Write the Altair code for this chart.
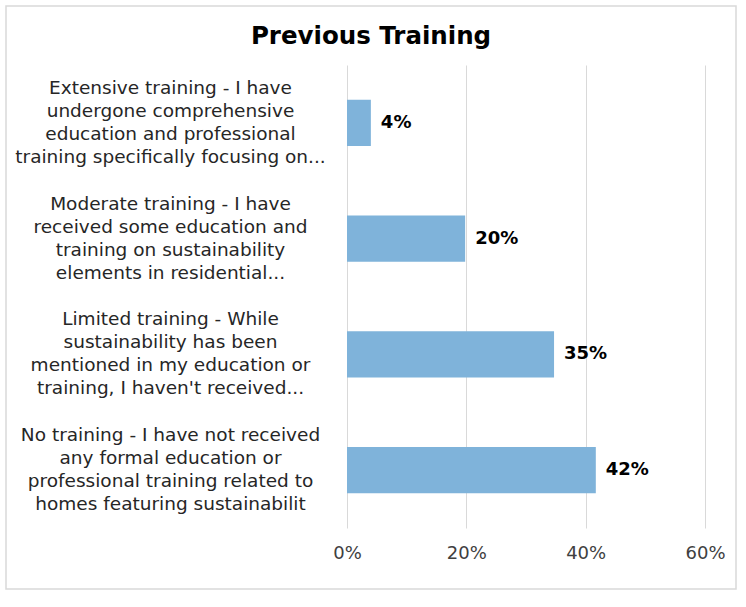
import altair as alt
import pandas as pd

title_text = "Previous Training"
categories = [
    "Extensive training - I have|undergone comprehensive|education and professional|training specifically focusing on...",
    "Moderate training - I have|received some education and|training on sustainability|elements in residential...",
    "Limited training - While|sustainability has been|mentioned in my education or|training, I haven't received...",
    "No training - I have not received|any formal education or|professional training related to|homes featuring sustainabilit",
]
values = [0.040, 0.198, 0.347, 0.417]
tick_values = [0, 0.2, 0.4, 0.6]

df = pd.DataFrame({"category": categories, "value": values})

FONT = "DejaVu Sans"

y_enc = alt.Y(
    "category:N",
    sort=None,
    scale=alt.Scale(paddingInner=0.6, paddingOuter=0.3),
    axis=alt.Axis(
        title=None,
        domain=False,
        ticks=False,
        labelExpr="split(datum.label, '|')",
        labelAlign="center",
        labelBaseline="middle",
        labelPadding=177,
        labelOffset=-35,
        labelLimit=400,
        labelFontSize=18.5,
        labelLineHeight=23,
        labelColor="#262626",
        labelFont=FONT,
    ),
)

x_enc = alt.X(
    "value:Q",
    scale=alt.Scale(domain=[0, 0.6]),
    axis=alt.Axis(
        title=None,
        values=tick_values,
        format=".0%",
        grid=True,
        gridColor="#D9D9D9",
        domain=False,
        ticks=False,
        labelFlush=False,
        labelPadding=16,
        labelFontSize=18,
        labelColor="#404040",
        labelFont=FONT,
    ),
)

bars = alt.Chart(df).mark_bar(color="#7FB3DA").encode(x=x_enc, y=y_enc)

labels = alt.Chart(df).mark_text(
    align="left", baseline="middle", dx=10, fontSize=18, fontWeight="bold",
    font=FONT, color="#000000"
).encode(
    x="value:Q",
    y=alt.Y("category:N", sort=None),
    text=alt.Text("value:Q", format=".0%"),
)

border = alt.Chart(alt.Data(values=[{}])).mark_rect(
    fill=None, stroke="#D9D9D9", strokeWidth=1.5
).encode(
    x=alt.value(-341), x2=alt.value(389), y=alt.value(-59), y2=alt.value(524)
)

title = alt.Chart(alt.Data(values=[{"t": title_text}])).mark_text(
    font=FONT, fontSize=24.5, fontWeight="bold", color="#000000",
    align="center", baseline="alphabetic"
).encode(
    text="t:N", x=alt.value(24), y=alt.value(-21)
)

chart = alt.layer(border, title, bars, labels).properties(
    width=358,
    height=463,
    background="white",
    autosize=alt.AutoSizeParams(type="none"),
    padding={"left": 347, "top": 65, "right": 41, "bottom": 79},
).configure_view(strokeWidth=0, stroke=None)

chart.save("out.html", embed_options={"renderer": "svg", "actions": False})
